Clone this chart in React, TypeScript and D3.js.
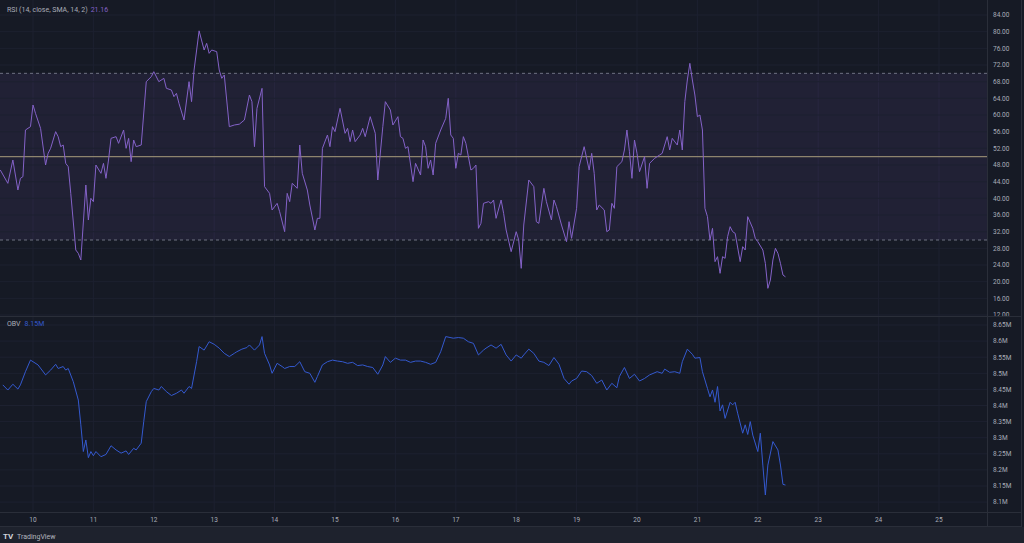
import React from "react";
import * as d3 from "d3";

// ---- data (hours since day 9, 00:00) ----
const dayTicks = [10, 11, 12, 13, 14, 15, 16, 17, 18, 19, 20, 21, 22, 23, 24, 25];
const rsiTicks = [84, 80, 76, 72, 68, 64, 60, 56, 52, 48, 44, 40, 36, 32, 28, 24, 20, 16, 12];
const obvTicks = [8.65, 8.6, 8.55, 8.5, 8.45, 8.4, 8.35, 8.3, 8.25, 8.2, 8.15, 8.1];

const rsiHours = [
  11, 14, 16, 18, 19, 20, 21, 23, 24, 25, 27, 29, 30, 31, 33, 34, 35, 36, 37, 38, 39, 41, 42, 43, 45, 46, 47, 48, 49, 51,
  52, 53, 54, 55, 57, 58, 60, 61, 62, 63, 64, 65, 67, 69, 71, 72, 74, 76, 77, 79, 80, 81, 82, 84, 86, 87, 88, 90, 92, 93,
  94, 95, 97, 98, 99, 100, 102, 104, 106, 108, 110, 111, 112, 113, 115, 116, 118, 119, 121, 122, 124, 125, 126, 127, 129, 130, 131, 133, 134, 136,
  137, 138, 139, 141, 142, 143, 144, 146, 148, 149, 150, 151, 152, 154, 155, 156, 158, 160, 161, 163, 164, 166, 167, 169, 170, 171, 172, 173, 175, 176,
  178, 179, 180, 181, 182, 183, 184, 186, 188, 189, 190, 191, 192, 193, 194, 195, 196, 198, 199, 200, 201, 202, 203, 205, 206, 207, 208, 210, 211, 212,
  214, 216, 217, 218, 219, 221, 223, 224, 225, 227, 228, 230, 231, 232, 234, 236, 237, 238, 240, 241, 243, 245, 246, 247, 248, 249, 251, 252, 253, 254,
  255, 256, 258, 259, 260, 261, 262, 263, 264, 265, 267, 268, 269, 271, 273, 274, 276, 277, 278, 280, 281, 282, 283, 284, 285, 286, 287, 288, 289, 290,
  291, 292, 293, 294, 295, 296, 297, 298, 299, 300, 301, 302, 303, 305, 306, 307, 308, 310, 311, 312, 314, 315, 316, 317, 318, 319, 320, 321, 322, 323,
];
const rsiValues = [
  46.8, 43.6, 49.2, 42, 44.8, 45.2, 56.4, 57.2, 62.4, 60.4, 56.8, 48, 50.8, 52, 56, 54.8, 52.4, 52.8, 48.4, 47.6, 41.2, 27.6, 26.8, 25.2, 43.2, 34.8, 40, 39.2, 48, 46,
  48.4, 44.8, 49.2, 54.4, 54.8, 53.2, 56.4, 52, 54.4, 48.8, 54, 52.4, 52.8, 68, 69.2, 70.4, 68, 68.8, 66.4, 66, 64.4, 65.2, 62.8, 58.8, 68, 63.2, 70.8, 80.2, 75.6, 77.2,
  74.8, 75.6, 75.2, 70.8, 68.8, 69.6, 57.2, 57.6, 57.8, 58.8, 64.8, 63.2, 52.4, 61.6, 66.4, 42.8, 41.2, 37.2, 38.8, 36.8, 32, 41.2, 39.2, 43.6, 42.4, 52.8, 46, 42, 38.4, 32.4,
  35.2, 35.2, 52, 55.2, 52.4, 57.2, 56, 61.6, 55.6, 56.8, 53.6, 56.4, 53.6, 55.2, 56.8, 54.8, 59.6, 55.6, 44.4, 57.2, 63.2, 61.2, 57.6, 59.6, 54.8, 54.4, 52, 52.4, 44, 48.4,
  45.6, 54, 52.4, 47.2, 49.2, 45.6, 53.2, 56.4, 59.2, 64, 55.2, 54.4, 47.2, 50.8, 50.4, 54.8, 53.2, 46.8, 47.2, 48, 32.8, 34, 38.8, 39.2, 38.8, 39.6, 35.2, 39.6, 36.4, 32.4,
  27.2, 32, 30, 23.2, 33.6, 44.4, 42.8, 34.4, 34, 42.4, 39.2, 34.8, 39.6, 38, 33.6, 29.6, 34.4, 30.4, 37.6, 47.6, 52.4, 46.8, 50.8, 46, 37.2, 38.4, 37.2, 32, 32.4, 38.8,
  37.6, 47.6, 48.8, 51.6, 56.4, 51.2, 44.8, 54, 50.8, 46.4, 50, 42.4, 48.4, 49.6, 50.4, 50.8, 54.8, 51.6, 54.4, 52.8, 56.4, 51.6, 63.2, 68.4, 72.4, 68.4, 64.8, 59.6, 60, 56.4,
  37.6, 35.6, 30, 32.8, 24.8, 26, 22, 26, 25.6, 30.8, 33.2, 32, 31.6, 24.8, 28.4, 27.6, 35.6, 32.8, 30.4, 29.6, 27.6, 24.4, 18.4, 20.4, 25.2, 28, 26.8, 24.4, 21.6, 21.16,
];

const obvHours = [
  12, 14, 16, 18, 19, 21, 23, 26, 29, 31, 33, 34, 36, 37, 38, 40, 42, 43, 44, 45, 46, 47, 48, 49, 51, 53, 55, 57, 59, 61,
  62, 64, 65, 67, 68, 69, 71, 72, 74, 75, 77, 79, 81, 83, 84, 86, 87, 89, 90, 92, 94, 96, 98, 100, 102, 104, 105, 107, 109, 110,
  112, 114, 115, 116, 118, 119, 121, 123, 124, 126, 128, 130, 132, 134, 136, 137, 139, 141, 143, 145, 147, 149, 151, 153, 155, 157, 159, 161, 163, 164,
  166, 168, 170, 172, 174, 176, 178, 180, 182, 184, 186, 188, 191, 193, 195, 197, 199, 201, 203, 204, 206, 208, 210, 212, 214, 216, 218, 219, 221, 223,
  225, 227, 229, 231, 233, 235, 237, 238, 240, 242, 244, 246, 248, 250, 252, 254, 256, 257, 259, 261, 263, 265, 267, 269, 272, 274, 275, 277, 279, 281,
  282, 284, 286, 287, 289, 290, 292, 293, 294, 295, 296, 297, 298, 299, 301, 302, 303, 304, 306, 307, 308, 309, 310, 312, 313, 314, 315, 316, 318, 320,
  321, 322, 323,
];
const obvValues = [
  8.464, 8.448, 8.466, 8.451, 8.464, 8.505, 8.541, 8.526, 8.495, 8.51, 8.528, 8.515, 8.521, 8.51, 8.515, 8.474, 8.417, 8.34, 8.257, 8.293, 8.238, 8.257, 8.244, 8.257, 8.241, 8.248, 8.275, 8.262, 8.252, 8.259,
  8.248, 8.267, 8.262, 8.283, 8.35, 8.412, 8.443, 8.453, 8.448, 8.459, 8.443, 8.431, 8.438, 8.448, 8.438, 8.459, 8.453, 8.536, 8.583, 8.572, 8.598, 8.59, 8.578, 8.562, 8.552, 8.562, 8.567, 8.575, 8.58, 8.588,
  8.572, 8.588, 8.614, 8.562, 8.526, 8.5, 8.531, 8.521, 8.515, 8.521, 8.521, 8.536, 8.505, 8.5, 8.472, 8.49, 8.526, 8.536, 8.541, 8.538, 8.536, 8.531, 8.534, 8.524, 8.526, 8.521, 8.518, 8.497, 8.526, 8.552,
  8.534, 8.547, 8.541, 8.541, 8.534, 8.538, 8.538, 8.534, 8.528, 8.534, 8.567, 8.614, 8.609, 8.611, 8.609, 8.598, 8.593, 8.557, 8.572, 8.578, 8.588, 8.578, 8.59, 8.557, 8.538, 8.557, 8.547, 8.557, 8.575, 8.562,
  8.538, 8.534, 8.524, 8.549, 8.528, 8.484, 8.466, 8.476, 8.484, 8.507, 8.505, 8.493, 8.469, 8.479, 8.448, 8.469, 8.455, 8.49, 8.518, 8.484, 8.497, 8.476, 8.484, 8.495, 8.505, 8.5, 8.513, 8.503, 8.505, 8.5,
  8.536, 8.575, 8.559, 8.547, 8.549, 8.505, 8.453, 8.427, 8.448, 8.41, 8.459, 8.383, 8.402, 8.36, 8.41, 8.402, 8.41, 8.376, 8.314, 8.34, 8.31, 8.35, 8.308, 8.257, 8.314, 8.215, 8.122, 8.215, 8.288, 8.262,
  8.215, 8.155, 8.153,
];

const rsiLegend = "RSI (14, close, SMA, 14, 2)";
const rsiLast = "21.16";
const obvLegend = "OBV";
const obvLast = "8.15M";

// ---- layout ----
const W = 1024;
const H = 543;
const plotRight = 987;
const axisRight = 1021;
const rsiTop = 0;
const rsiBottom = 316;
const obvTop = 317;
const obvBottom = 512;
const stripTop = 527;

const C = {
  bg: "#161a25",
  strip: "#1e222d",
  border: "#2a2e39",
  grid: "#1d2130",
  text: "#a9adb8",
  rsi: "#8462c8",
  band: "rgba(126,87,194,0.11)",
  dashed: "#6f7282",
  mid: "#8e846e",
  obv: "#3459cf",
};
const FONT = "Roboto, 'Open Sans', sans-serif";

export default function App() {
  const x = d3.scaleLinear().domain([24, 384]).range([33, 939]);
  const yR = d3.scaleLinear().domain([12, 84]).range([315, 15]);
  const yO = d3.scaleLinear().domain([8.1, 8.65]).range([502.1, 325]);

  const rsiPts = rsiHours.map((h, i) => [h, rsiValues[i]] as [number, number]);
  const obvPts = obvHours.map((h, i) => [h, obvValues[i]] as [number, number]);

  const rsiLine = d3.line<[number, number]>().x((d) => x(d[0])).y((d) => yR(d[1]))(rsiPts) || "";
  const obvLine = d3.line<[number, number]>().x((d) => x(d[0])).y((d) => yO(d[1]))(obvPts) || "";

  const fmtObv = (v: number) => `${+v.toFixed(2)}M`;

  return (
    <svg
      width={W}
      height={H}
      style={{ position: "fixed", left: 0, top: 0, display: "block" }}
      fontFamily={FONT}
    >
      <defs>
        <clipPath id="rsiClip">
          <rect x={0} y={rsiTop} width={plotRight} height={rsiBottom - rsiTop} />
        </clipPath>
        <clipPath id="rsiAxisClip">
          <rect x={plotRight} y={rsiTop} width={axisRight - plotRight} height={rsiBottom - rsiTop} />
        </clipPath>
        <clipPath id="obvClip">
          <rect x={0} y={obvTop} width={plotRight} height={obvBottom - obvTop} />
        </clipPath>
      </defs>
      <rect x={0} y={0} width={W} height={H} fill={C.bg} />
      <rect x={0} y={stripTop} width={W} height={H - stripTop} fill={C.strip} />

      {/* vertical grid */}
      {dayTicks.map((d) => (
        <g key={"vg" + d}>
          <line x1={x((d - 9) * 24)} x2={x((d - 9) * 24)} y1={rsiTop} y2={rsiBottom} stroke={C.grid} />
          <line x1={x((d - 9) * 24)} x2={x((d - 9) * 24)} y1={obvTop} y2={obvBottom} stroke={C.grid} />
        </g>
      ))}

      {/* RSI pane */}
      <g clipPath="url(#rsiClip)">
        <rect x={0} y={yR(70)} width={plotRight} height={yR(30) - yR(70)} fill={C.band} />
        {rsiTicks.map((t) => (
          <line key={"rg" + t} x1={0} x2={plotRight} y1={yR(t)} y2={yR(t)} stroke={C.grid} />
        ))}
        <line x1={0} x2={plotRight} y1={yR(70)} y2={yR(70)} stroke={C.dashed} strokeDasharray="3,3" />
        <line x1={0} x2={plotRight} y1={yR(30)} y2={yR(30)} stroke={C.dashed} strokeDasharray="3,3" />
        <line x1={0} x2={plotRight} y1={yR(50)} y2={yR(50)} stroke={C.mid} strokeWidth={1.2} />
        <path d={rsiLine} fill="none" stroke={C.rsi} strokeWidth={1} />
      </g>
      <g clipPath="url(#rsiAxisClip)">
        {rsiTicks.map((t) => (
          <text key={"rt" + t} x={993} y={yR(t) + 2.3} fontSize={6.5} fill={C.text}>
            {t.toFixed(2)}
          </text>
        ))}
      </g>
      <text x={7} y={12} fontSize={7} fill={C.text}>
        {rsiLegend}
        <tspan dx={3} fill={C.rsi}>{rsiLast}</tspan>
      </text>

      {/* OBV pane */}
      <g clipPath="url(#obvClip)">
        {obvTicks.map((t) => (
          <line key={"og" + t} x1={0} x2={plotRight} y1={yO(t)} y2={yO(t)} stroke={C.grid} />
        ))}
        <path d={obvLine} fill="none" stroke={C.obv} strokeWidth={1} />
      </g>
      {obvTicks.map((t) => (
        <text key={"ot" + t} x={993} y={yO(t) + 2.3} fontSize={6.5} fill={C.text}>
          {fmtObv(t)}
        </text>
      ))}
      <text x={7} y={326} fontSize={7} fill={C.text}>
        {obvLegend}
        <tspan dx={4} fill={C.obv}>{obvLast}</tspan>
      </text>

      {/* separators */}
      <line x1={0} x2={axisRight} y1={316.5} y2={316.5} stroke={C.border} />
      <line x1={0} x2={axisRight} y1={512.5} y2={512.5} stroke={C.border} />
      <line x1={0} x2={axisRight} y1={526.5} y2={526.5} stroke={C.border} />
      <line x1={plotRight + 0.5} x2={plotRight + 0.5} y1={0} y2={stripTop} stroke={C.border} />
      <line x1={axisRight + 0.5} x2={axisRight + 0.5} y1={0} y2={stripTop} stroke={C.border} />

      {/* time axis */}
      {dayTicks.map((d) => (
        <text key={"dt" + d} x={x((d - 9) * 24)} y={522} fontSize={6.5} fill={C.text} textAnchor="middle">
          {d}
        </text>
      ))}

      {/* logo */}
      <text x={3} y={539} fontSize={8} fontWeight="bold" fill="#d1d4dc">TV</text>
      <text x={17} y={539} fontSize={7} fill="#b2b5be">TradingView</text>
    </svg>
  );
}
